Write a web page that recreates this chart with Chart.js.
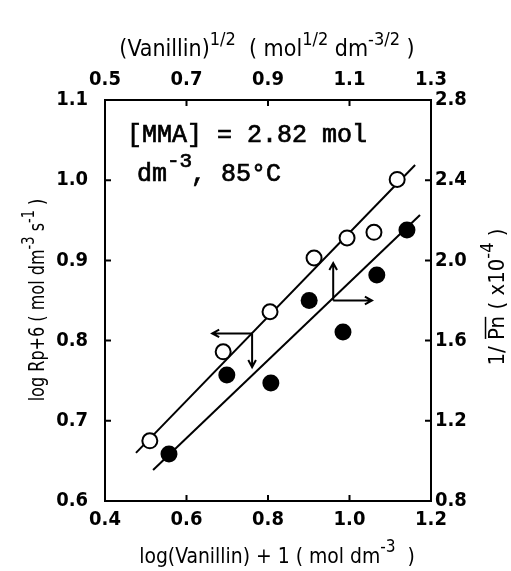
<!DOCTYPE html>
<html>
<head>
<meta charset="utf-8">
<script src="https://cdn.jsdelivr.net/npm/chart.js@4.4.0/dist/chart.umd.min.js"></script>
<style>
  html, body { margin: 0; padding: 0; background: #fff; }
  #wrap { width: 511px; height: 571px; }
</style>
</head>
<body>
<div id="wrap"><canvas id="chart" width="511" height="571"></canvas></div>
<script>
// open circles: log(Vanillin)+1 vs log Rp+6 (bottom / left axes)
const logVanillin = [0.510, 0.690, 0.805, 0.913, 0.994, 1.060, 1.117];
const logRp = [0.675, 0.786, 0.836, 0.903, 0.928, 0.935, 1.001];
const rpFitX = [0.476, 1.161];
const rpFitY = [0.660, 1.019];

// filled circles: (Vanillin)^1/2 vs 1/Pn (top / right axes)
const sqrtVanillin = [0.657, 0.799, 0.907, 1.001, 1.084, 1.167, 1.241];
const invPn = [1.034, 1.428, 1.389, 1.800, 1.643, 1.927, 2.152];
const pnFitX = [0.618, 1.273];
const pnFitY = [0.955, 2.226];

// tick values for the four axes
const bottomTicks = [0.4, 0.6, 0.8, 1.0, 1.2];
const topTicks = [0.5, 0.7, 0.9, 1.1, 1.3];
const leftTicks = [0.6, 0.7, 0.8, 0.9, 1.0, 1.1];
const rightTicks = [0.8, 1.2, 1.6, 2.0, 2.4, 2.8];

// arrows telling which axes each line belongs to: [x, y, arrow end x, arrow end y]
const rpArrow = [0.761, 0.809, 0.663, 0.767];
const pnArrow = [1.060, 1.800, 1.155, 1.987];

const SANS = "'DejaVu Sans Condensed', 'DejaVu Sans', sans-serif";
const MONO = "'Liberation Mono', 'DejaVu Sans Mono', monospace";

const toPairs = (xs, ys) => xs.map((x, i) => ({ x: x, y: ys[i] }));

// draw text made of parts, some raised as superscripts; squeeze < 1 narrows it
function richText(ctx, parts, x, y, size, family, squeeze) {
    const k = squeeze || 1;
    const supSize = Math.round(size * 0.8);
    const fontFor = p => (p.sup ? supSize : size) + 'px ' + family;
    let w = 0;
    parts.forEach(p => { ctx.font = fontFor(p); w += ctx.measureText(p.t).width; });
    ctx.save();
    ctx.translate(x, y);
    ctx.scale(k, 1);
    let cx = -w / 2;
    ctx.textAlign = 'left';
    ctx.textBaseline = 'alphabetic';
    parts.forEach(p => {
        ctx.font = fontFor(p);
        const pw = ctx.measureText(p.t).width;
        ctx.fillText(p.t, cx, p.sup ? -size * 0.5 : 0);
        if (p.over) {
            ctx.beginPath();
            ctx.lineWidth = 1.5;
            ctx.moveTo(cx + 1, -size * 0.84);
            ctx.lineTo(cx + pw - 1, -size * 0.84);
            ctx.stroke();
        }
        cx += pw;
    });
    ctx.restore();
}

function arrow(ctx, x0, y0, x1, y1) {
    const a = Math.atan2(y1 - y0, x1 - x0);
    const h = 8;
    ctx.beginPath();
    ctx.moveTo(x0, y0);
    ctx.lineTo(x1, y1);
    ctx.moveTo(x1 - h * Math.cos(a - 0.5), y1 - h * Math.sin(a - 0.5));
    ctx.lineTo(x1, y1);
    ctx.lineTo(x1 - h * Math.cos(a + 0.5), y1 - h * Math.sin(a + 0.5));
    ctx.stroke();
}

function noteText(ctx, t, x, y, size) {
    ctx.font = size + 'px ' + MONO;
    ctx.fillText(t, x, y);
    ctx.lineWidth = 0.7;
    ctx.strokeText(t, x, y);
}

const decorations = {
    id: 'decorations',
    afterDatasetsDraw(chart) {
        const ctx = chart.ctx;
        const area = chart.chartArea;
        const s = chart.scales;
        ctx.save();
        ctx.strokeStyle = '#000';
        ctx.fillStyle = '#000';
        ctx.lineWidth = 2;

        // inward tick marks
        const len = 6;
        ctx.beginPath();
        bottomTicks.slice(1, -1).forEach(v => {
            const p = s.x.getPixelForValue(v);
            ctx.moveTo(p, area.bottom); ctx.lineTo(p, area.bottom - len);
        });
        topTicks.slice(1, -1).forEach(v => {
            const p = s.x2.getPixelForValue(v);
            ctx.moveTo(p, area.top); ctx.lineTo(p, area.top + len);
        });
        leftTicks.slice(1, -1).forEach(v => {
            const p = s.y.getPixelForValue(v);
            ctx.moveTo(area.left, p); ctx.lineTo(area.left + len, p);
        });
        rightTicks.slice(1, -1).forEach(v => {
            const p = s.y2.getPixelForValue(v);
            ctx.moveTo(area.right, p); ctx.lineTo(area.right - len, p);
        });
        ctx.stroke();

        // axis arrows
        let cx = s.x.getPixelForValue(rpArrow[0]), cy = s.y.getPixelForValue(rpArrow[1]);
        arrow(ctx, cx, cy, s.x.getPixelForValue(rpArrow[2]), cy);
        arrow(ctx, cx, cy, cx, s.y.getPixelForValue(rpArrow[3]));
        cx = s.x2.getPixelForValue(pnArrow[0]); cy = s.y2.getPixelForValue(pnArrow[1]);
        arrow(ctx, cx, cy, s.x2.getPixelForValue(pnArrow[2]), cy);
        arrow(ctx, cx, cy, cx, s.y2.getPixelForValue(pnArrow[3]));

        // conditions note
        ctx.textAlign = 'left';
        ctx.textBaseline = 'alphabetic';
        noteText(ctx, '[MMA] = 2.82 mol', area.left + 22, 142, 25);
        noteText(ctx, 'dm', area.left + 32, 181, 25);
        noteText(ctx, '-3', area.left + 62, 167, 21);
        noteText(ctx, ', 85\u00B0C', area.left + 86, 181, 25);

        // axis titles
        richText(ctx, [
            { t: '(Vanillin)' }, { t: '1/2', sup: true }, { t: '  ( mol' }, { t: '1/2', sup: true },
            { t: ' dm' }, { t: '-3/2', sup: true }, { t: ' )' }
        ], 267, 56, 23, SANS);
        richText(ctx, [
            { t: 'log(Vanillin) + 1 ( mol dm' }, { t: '-3', sup: true }, { t: '  )' }
        ], 277, 563, 22, SANS, 0.95);

        ctx.save();
        ctx.translate(44, 300);
        ctx.rotate(-Math.PI / 2);
        richText(ctx, [
            { t: 'log Rp+6 ( mol dm' }, { t: '-3', sup: true }, { t: ' s' }, { t: '-1', sup: true }, { t: ' )' }
        ], 0, 0, 21, SANS, 0.85);
        ctx.restore();

        ctx.save();
        ctx.translate(504, 297);
        ctx.rotate(-Math.PI / 2);
        richText(ctx, [
            { t: '1/ ' }, { t: 'Pn', over: true }, { t: ' ( x10' }, { t: '-4', sup: true }, { t: ' )' }
        ], 0, 0, 22, SANS);
        ctx.restore();

        ctx.restore();
    }
};

const tickFont = { family: SANS, size: 20, weight: 'bold' };

function axis(position, min, max, values, size, pad) {
    return {
        type: 'linear',
        position: position,
        min: min,
        max: max,
        afterBuildTicks: scale => { scale.ticks = values.map(v => ({ value: v })); },
        afterFit: scale => {
            if (position === 'left' || position === 'right') scale.width = size;
            else scale.height = size;
        },
        grid: { drawOnChartArea: false, drawTicks: false },
        border: { display: true, color: '#000', width: 2 },
        ticks: {
            color: '#000',
            font: tickFont,
            padding: pad,
            autoSkip: false,
            maxRotation: 0,
            callback: v => Number(v).toFixed(1)
        }
    };
}

new Chart(document.getElementById('chart'), {
    type: 'scatter',
    data: {
        datasets: [
            {
                label: 'log Rp+6',
                data: toPairs(logVanillin, logRp),
                xAxisID: 'x', yAxisID: 'y',
                pointStyle: 'circle',
                pointRadius: 7.5,
                pointBorderWidth: 2,
                pointBackgroundColor: '#fff',
                pointBorderColor: '#000',
                showLine: false
            },
            {
                label: 'log Rp+6 fit',
                data: toPairs(rpFitX, rpFitY),
                xAxisID: 'x', yAxisID: 'y',
                showLine: true,
                borderColor: '#000',
                borderWidth: 2,
                pointRadius: 0
            },
            {
                label: '1/Pn',
                data: toPairs(sqrtVanillin, invPn),
                xAxisID: 'x2', yAxisID: 'y2',
                pointStyle: 'circle',
                pointRadius: 8.5,
                pointBorderWidth: 0,
                pointBackgroundColor: '#000',
                pointBorderColor: '#000',
                showLine: false
            },
            {
                label: '1/Pn fit',
                data: toPairs(pnFitX, pnFitY),
                xAxisID: 'x2', yAxisID: 'y2',
                showLine: true,
                borderColor: '#000',
                borderWidth: 2,
                pointRadius: 0
            }
        ]
    },
    options: {
        responsive: false,
        animation: false,
        layout: { padding: 0 },
        plugins: { legend: { display: false }, tooltip: { enabled: false } },
        scales: {
            x: axis('bottom', 0.4, 1.2, bottomTicks, 70, 7),
            x2: axis('top', 0.5, 1.3, topTicks, 100, 8),
            y: axis('left', 0.6, 1.1, leftTicks, 105, 17),
            y2: axis('right', 0.8, 2.8, rightTicks, 80, 4)
        }
    },
    plugins: [decorations]
});
</script>
</body>
</html>
